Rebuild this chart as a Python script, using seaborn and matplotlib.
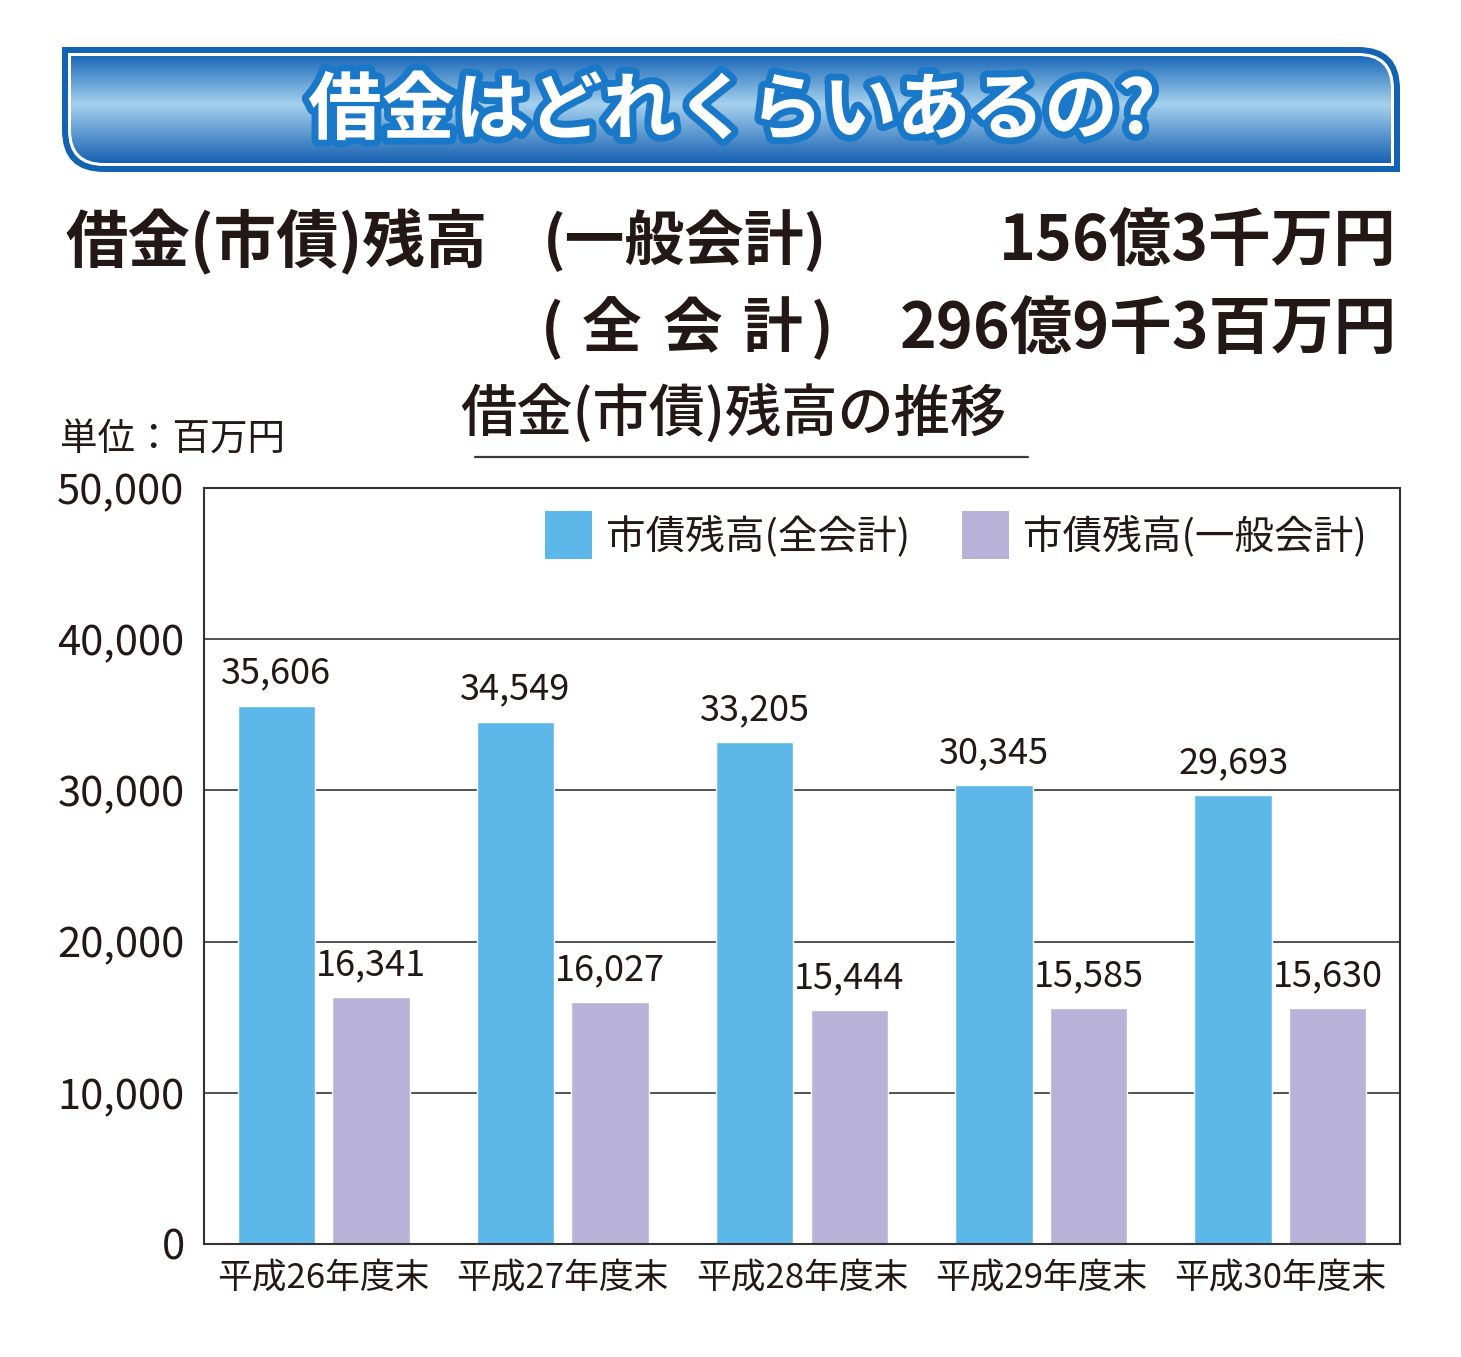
import numpy as np
import pandas as pd
import matplotlib
matplotlib.use('Agg')
import matplotlib.pyplot as plt
import matplotlib.patheffects as pe
from matplotlib.path import Path
from matplotlib.patches import PathPatch, Patch
from matplotlib.colors import LinearSegmentedColormap
import seaborn as sns

# ---- data ----
years = ['平成26年度末', '平成27年度末', '平成28年度末', '平成29年度末', '平成30年度末']
series = ['市債残高(全会計)', '市債残高(一般会計)']
total_all = [35606, 34549, 33205, 30345, 29693]
total_general = [16341, 16027, 15444, 15585, 15630]
yticks = [0, 10000, 20000, 30000, 40000, 50000]

colors = ['#5db7e9', '#b8b1d8']
ink = '#231815'

df = pd.DataFrame({
    'year': years * 2,
    'series': [series[0]] * 5 + [series[1]] * 5,
    'value': total_all + total_general,
})

sns.set_style('white')
plt.rcParams['font.family'] = ['Noto Sans CJK JP', 'DejaVu Sans']

W, H = 1461, 1357
fig = plt.figure(figsize=(W / 100, H / 100), dpi=100)

# overlay axes in pixel coordinates for the decorations
deco = fig.add_axes([0, 0, 1, 1])
deco.set_xlim(0, W)
deco.set_ylim(H, 0)
deco.axis('off')


def banner_path(x0, y0, x1, y1, r):
    # top-left and bottom-right square, top-right and bottom-left rounded
    verts = [(x0, y0), (x1 - r, y0), (x1, y0), (x1, y0 + r),
             (x1, y1), (x0 + r, y1), (x0, y1), (x0, y1 - r), (x0, y0)]
    codes = [Path.MOVETO, Path.LINETO, Path.CURVE3, Path.CURVE3,
             Path.LINETO, Path.LINETO, Path.CURVE3, Path.CURVE3, Path.CLOSEPOLY]
    return Path(verts, codes)


bx0, by0, bx1, by1 = 62, 47, 1400, 172
deco.add_patch(PathPatch(banner_path(bx0, by0, bx1, by1, 42),
                         facecolor='#1462b2', edgecolor='none'))
deco.add_patch(PathPatch(banner_path(bx0 + 6, by0 + 6, bx1 - 6, by1 - 6, 36),
                         facecolor='white', edgecolor='none'))
inner = PathPatch(banner_path(bx0 + 9, by0 + 9, bx1 - 9, by1 - 9, 33),
                  facecolor='none', edgecolor='none')
deco.add_patch(inner)
cmap = LinearSegmentedColormap.from_list(
    'banner', [(0, '#1b69b8'), (0.45, '#a6d1ee'), (1, '#1660b1')])
grad = np.linspace(0, 1, 256).reshape(-1, 1)
im = deco.imshow(grad, cmap=cmap, aspect='auto', origin='upper',
                 extent=(bx0 + 9, bx1 - 9, by1 - 9, by0 + 9), zorder=1)
im.set_clip_path(inner)
deco.set_xlim(0, W)
deco.set_ylim(H, 0)

deco.text(732, 112, '借金はどれくらいあるの?', fontsize=53, fontweight='bold',
          color='white', ha='center', va='center', zorder=3,
          path_effects=[pe.withStroke(linewidth=10, foreground='#1a78c9')])

# summary lines
big = dict(fontweight='bold', color=ink, va='center')
deco.text(65, 242, '借金(市債)残高', fontsize=45, ha='left', **big)
deco.text(543, 242, '(一般会計)', fontsize=43, ha='left', **big)
deco.text(1397, 242, '156億3千万円', fontsize=45, ha='right', **big)
for ch, xc in zip(['(', '全', '会', '計', ')'], [552, 612, 692, 772, 822]):
    deco.text(xc, 330, ch, fontsize=43, ha='center', **big)
deco.text(1397, 330, '296億9千3百万円', fontsize=45, ha='right', **big)

deco.text(733, 414, '借金(市債)残高の推移', fontsize=40.5, fontweight='medium',
          color=ink, ha='center', va='center')
deco.plot([475, 1028], [457, 457], color='#3a3a3a', lw=1.6)
deco.text(60, 440, '単位：百万円', fontsize=27, color=ink, ha='left', va='center')

# ---- chart ----
ax = fig.add_axes([204 / W, 1 - 1244 / H, 1196 / W, 756 / H])
sns.barplot(data=df, x='year', y='value', hue='series', palette=colors,
            width=0.79, gap=0.18, saturation=1, legend=False, ax=ax, zorder=2)

ax.set_ylim(0, 50000)
ax.set_yticks(yticks)
ax.set_yticklabels([f'{v:,}' for v in yticks])
ax.set_xlabel('')
ax.set_ylabel('')
ax.yaxis.grid(True, color='#333333', lw=1.2, zorder=0)
ax.set_axisbelow(True)
ax.tick_params(axis='y', length=0, pad=14, labelsize=30, labelcolor=ink)
ax.tick_params(axis='x', length=0, pad=12, labelsize=25, labelcolor=ink)
for s in ax.spines.values():
    s.set_color('#333333')
    s.set_linewidth(1.5)
    s.set_visible(True)

for cont, vals in zip(ax.containers, [total_all, total_general]):
    ax.bar_label(cont, labels=[f'{v:,}' for v in vals], padding=10,
                 fontsize=26, color=ink)

handles = [Patch(facecolor=c, edgecolor='none') for c in colors]
ax.legend(handles, series, loc='upper left', bbox_to_anchor=(0.285, 0.97),
          ncol=2, frameon=False, fontsize=28.5, handlelength=1.2,
          handleheight=1.5, handletextpad=0.35, columnspacing=1.3,
          borderaxespad=0, borderpad=0, labelcolor=ink)

fig.savefig('out.png', dpi=100)
